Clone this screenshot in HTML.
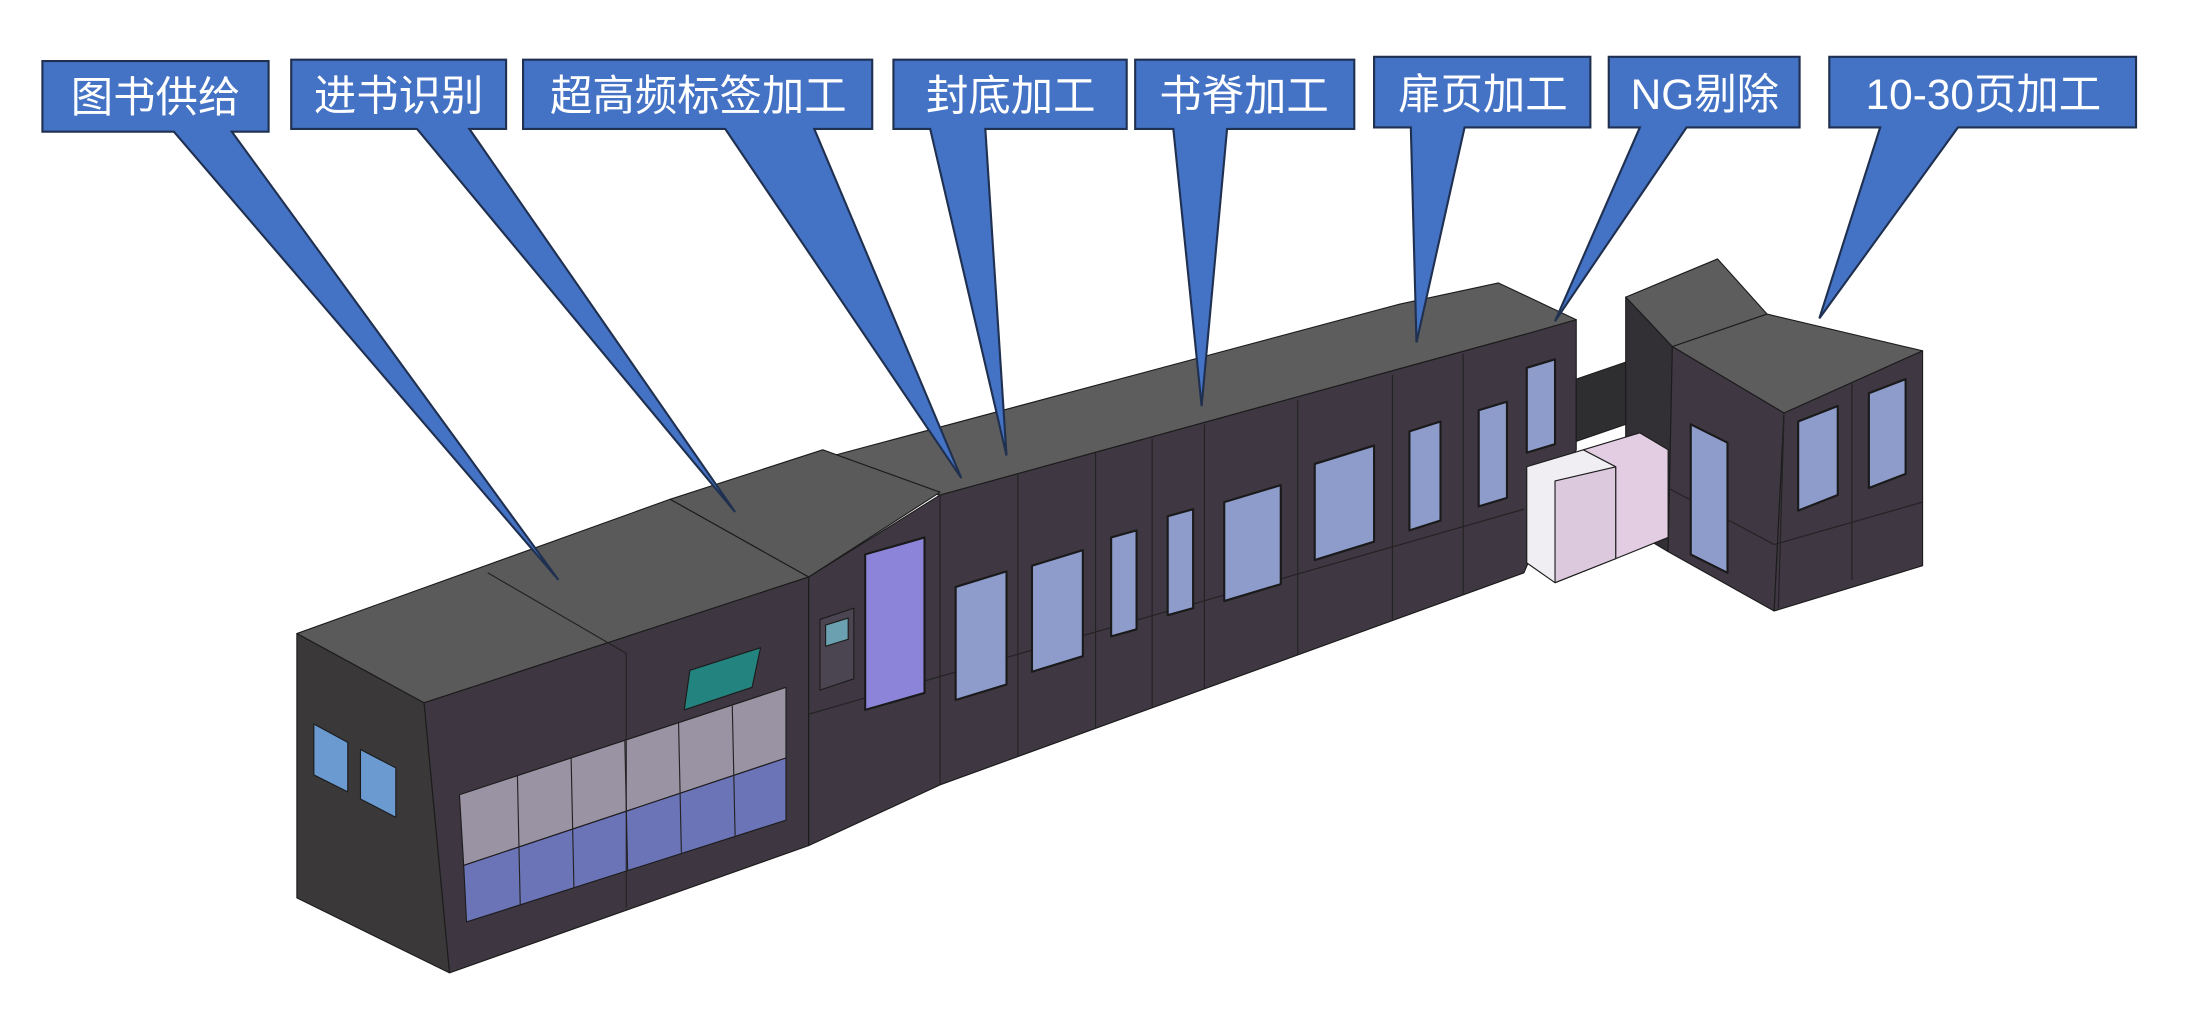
<!DOCTYPE html>
<html><head><meta charset="utf-8"><style>
html,body{margin:0;padding:0;background:#fff;}
svg{display:block;}
text{font-family:"Liberation Sans","Noto Sans CJK SC",sans-serif;fill:#fff;font-size:30px;}
</style></head><body>
<svg width="2194" height="1024" viewBox="0 0 1552 724" xmlns="http://www.w3.org/2000/svg">
<rect width="1552" height="724" fill="#fff"/>
<g stroke="#1c1c1c" stroke-width="0.8" stroke-linejoin="round">
<polygon points="560,330 990,215 1060,200 1115,226 1080,236 665,350" fill="#5d5d5d"/>
<polygon points="572,408 665,350 1080,236 1115,226 1115,318 1078,405 665,555 572,598" fill="#3f3742"/>
<polygon points="1115,268 1150,256 1150,300 1115,312" fill="#2e2e30"/>
<polygon points="1150,210 1215,183 1250,222 1183,245" fill="#5d5d5d"/>
<polygon points="1183,245 1250,222 1360,248 1262,292" fill="#5d5d5d"/>
<polygon points="1150,210 1183,245 1180,390 1150,372" fill="#333035"/>
<polygon points="1183,245 1262,292 1255,432 1180,390" fill="#3f3742"/>
<polygon points="1262,292 1360,248 1360,400 1255,432" fill="#3f3742"/>
<polygon points="1080,330 1120,318 1143,330 1143,395 1100,412 1080,398" fill="#f0eef2"/>
<polygon points="1100,340 1143,330 1143,395 1100,412" fill="#ddc9de"/>
<polygon points="1120,318 1160,306 1180,318 1180,380 1143,395 1143,330" fill="#e2cde2"/>
<polygon points="474,353 582,318 665,348 572,408" fill="#5a5a5a"/>
<polygon points="210,448 474,353 572,408 300,497" fill="#5a5a5a"/>
<polygon points="210,448 300,497 318,688 210,635" fill="#3a3838"/>
<polygon points="300,497 572,408 572,598 318,688" fill="#3e3640"/>
<polygon points="325,562 556,486 556,536 328,612" fill="#9a93a4"/>
<polygon points="328,612 556,536 556,580 330,652" fill="#6c74b8"/>
<polygon points="488,474 538,458 532,486 484,502" fill="#22837f"/>
<polygon points="222,512 246,525 246,560 222,548" fill="#6a9ad0"/>
<polygon points="255,530 280,543 280,578 255,565" fill="#6a9ad0"/>
<g fill="none" stroke="#222" stroke-width="0.8">
<line x1="366" y1="548" x2="368" y2="640"/><line x1="404" y1="536" x2="406" y2="628"/>
<line x1="442" y1="524" x2="444" y2="616"/><line x1="480" y1="511" x2="482" y2="603"/>
<line x1="518" y1="499" x2="520" y2="591"/><line x1="443" y1="462" x2="443" y2="642"/>
<line x1="345" y1="405" x2="443" y2="462"/>
<line x1="572" y1="505" x2="1078" y2="360"/>
<line x1="665" y1="350" x2="665" y2="555"/><line x1="720" y1="335" x2="720" y2="535"/>
<line x1="775" y1="320" x2="775" y2="515"/><line x1="815" y1="310" x2="815" y2="500"/>
<line x1="852" y1="300" x2="852" y2="487"/><line x1="918" y1="283" x2="918" y2="463"/>
<line x1="985" y1="265" x2="985" y2="438"/><line x1="1035" y1="250" x2="1035" y2="420"/>
<line x1="1262" y1="292" x2="1258" y2="430"/><line x1="1310" y1="270" x2="1310" y2="410"/>
<line x1="1180" y1="345" x2="1255" y2="385"/><line x1="1255" y1="385" x2="1360" y2="355"/>
</g>
<polygon points="580,438 604,430 604,480 580,488" fill="#4a4550"/>
<polygon points="584,442 600,437 600,452 584,457" fill="#6aa0b0"/>
<g fill="#8e9ccc" stroke="#1a1a1a" stroke-width="1.5">
<polygon points="612,392 654,380 654,490 612,502" fill="#8c84d8"/>
<polygon points="676,415 712,404 712,484 676,495"/>
<polygon points="730,400 766,389 766,464 730,475"/>
<polygon points="786,380 804,375 804,445 786,450"/>
<polygon points="826,365 844,360 844,430 826,435"/>
<polygon points="866,355 906,343 906,413 866,425"/>
<polygon points="930,328 972,315 972,383 930,396"/>
<polygon points="997,305 1019,298 1019,368 997,375"/>
<polygon points="1046,290 1066,284 1066,352 1046,358"/>
<polygon points="1080,260 1100,254 1100,314 1080,320"/>
<polygon points="1196,300 1222,313 1222,405 1196,392"/>
<polygon points="1272,298 1300,287 1300,350 1272,361"/>
<polygon points="1322,278 1348,268 1348,335 1322,345"/>
</g>
</g>
<g fill="#4472c4" stroke="#1f3050" stroke-width="1.5" stroke-linejoin="miter">
<path d="M30,43 H190 V93 H164 L395,410 L123,93 H30 Z"/>
<path d="M206,42 H358 V91 H332 L520,362 L295,91 H206 Z"/>
<path d="M370,42 H617 V91 H576 L680,338 L513,91 H370 Z"/>
<path d="M632,42 H797 V91 H697 L712,322 L658,91 H632 Z"/>
<path d="M803,42 H958 V91 H868 L850,287 L830,91 H803 Z"/>
<path d="M972,40 H1125 V90 H1036 L1002,242 L998,90 H972 Z"/>
<path d="M1138,40 H1273 V90 H1193 L1100,227 L1160,90 H1138 Z"/>
<path d="M1294,40 H1511 V90 H1385 L1287,225 L1330,90 H1294 Z"/>
</g>
<g text-anchor="middle">
<text x="110" y="79">图书供给</text>
<text x="282" y="78">进书识别</text>
<text x="494" y="78">超高频标签加工</text>
<text x="715" y="78">封底加工</text>
<text x="880" y="78">书脊加工</text>
<text x="1049" y="77">扉页加工</text>
<text x="1206" y="77">NG剔除</text>
<text x="1403" y="77">10-30页加工</text>
</g>
</svg>
</body></html>
